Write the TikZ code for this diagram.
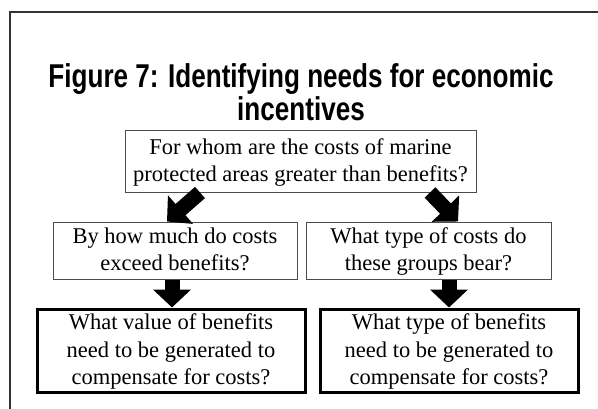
\documentclass[tikz,border=0pt]{standalone}
\usepackage{fontspec}
\setmainfont{Liberation Serif}
\newfontfamily\titlefont{Liberation Sans}[FakeStretch=0.79]
\usetikzlibrary{arrows.meta}
\newcommand\qtext[2]{\raisebox{#1}[0pt][0pt]{\begin{tabular}{@{}c@{}}#2\end{tabular}}}
\tikzset{
  qbox/.style={draw=black!70, line width=1pt, inner sep=0pt,
    font=\fontsize{22.5}{27}\selectfont},
  ansbox/.style={draw=black, line width=3pt, inner sep=0pt,
    font=\fontsize{22.5}{27.5}\selectfont},
  blockarrow/.style={line width=15pt, -{Triangle[length=18pt,width=37pt]}},
}
\begin{document}
\begin{tikzpicture}[x=1pt,y=-1pt]
\useasboundingbox (0,0) rectangle (598,408);
\draw[line width=1.6pt, black!80] (10,430) -- (10,12) -- (620,12);
\node[font=\titlefont\bfseries\fontsize{33}{33}\selectfont, align=center, inner sep=0pt] (title) at (301,92)
  {Figure 7: Identifying needs for economic\\incentives};
\node[qbox, minimum width=351pt, minimum height=62pt] (top) at (300.5,161)
  {\qtext{-7pt}{For whom are the costs of marine\\protected areas greater than benefits?}};
\node[qbox, minimum width=244pt, minimum height=57pt] (midL) at (175,250.5)
  {\qtext{-6.5pt}{By how much do costs\\exceed benefits?}};
\node[qbox, minimum width=245pt, minimum height=57pt] (midR) at (428.5,250.5)
  {\qtext{-6.5pt}{What type of costs do\\these groups bear?}};
\node[ansbox, minimum width=268pt, minimum height=83pt] (botL) at (171,350.5)
  {\qtext{-6.5pt}{What value of benefits\\need to be generated to\\compensate for costs?}};
\node[ansbox, minimum width=258pt, minimum height=83pt] (botR) at (449,350.5)
  {\qtext{-6.5pt}{What type of benefits\\need to be generated to\\compensate for costs?}};
\draw[blockarrow] ([xshift=-100.5pt]top.south) -- ([xshift=-8pt]midL.north);
\draw[blockarrow] ([xshift=129.5pt]top.south) -- ([xshift=29.5pt]midR.north);
\draw[blockarrow] ([xshift=-3pt]midL.south) -- ([xshift=1pt]botL.north);
\draw[blockarrow] ([xshift=20.5pt]midR.south) -- ([xshift=0pt]botR.north);
\end{tikzpicture}
\end{document}
